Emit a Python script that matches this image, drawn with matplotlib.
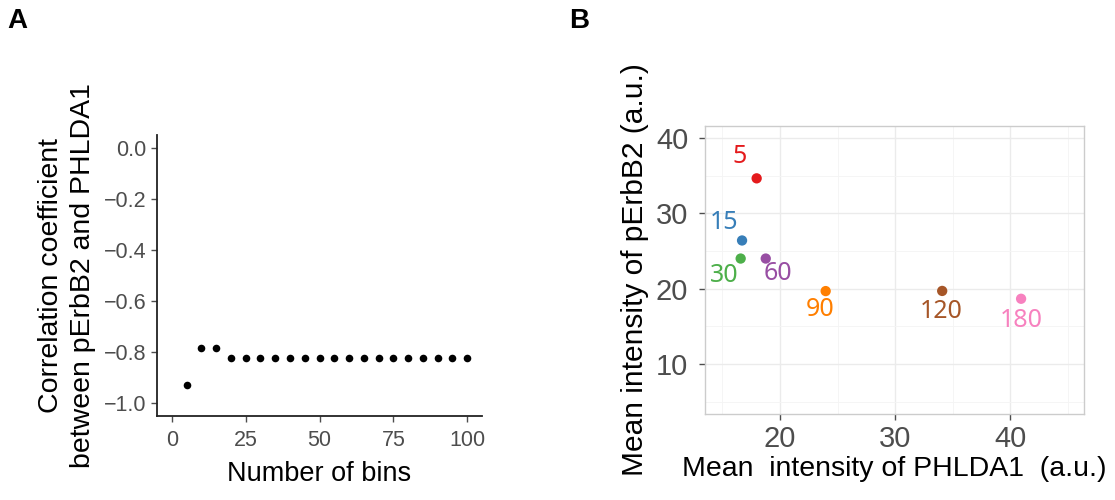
import matplotlib.pyplot as plt
from matplotlib.ticker import MultipleLocator

plt.rcParams['font.family'] = ['Liberation Sans', 'DejaVu Sans']

# panel A: correlation vs number of bins
n_bins = [5, 10, 15, 20, 25, 30, 35, 40, 45, 50, 55, 60, 65, 70, 75, 80, 85, 90, 95, 100]
corr = [-0.93, -0.785, -0.785] + [-0.824] * 17

# panel B: mean intensities per time point
times = ['5', '15', '30', '60', '90', '120', '180']
phlda1 = [17.97, 16.7, 16.58, 18.76, 23.97, 34.1, 40.96]
perbb2 = [34.65, 26.4, 24.0, 24.0, 19.68, 19.7, 18.66]
label_x = [16.5, 15.17, 15.17, 19.86, 23.5, 34.0, 40.96]
label_y = [37.5, 28.8, 21.7, 22.0, 17.2, 17.0, 15.8]
colors = ['#E41A1C', '#377EB8', '#4DAF4A', '#984EA3', '#FF7F00', '#A65628', '#F781BF']

fig = plt.figure(figsize=(11.15, 5.0), dpi=100)
tick_col = '#4D4D4D'

# ---- A ----
ax1 = fig.add_axes([0.1408, 0.168, 0.2915, 0.562])
ax1.scatter(n_bins, corr, s=30, color='black', zorder=3, linewidths=0)
ax1.set_xlim(-5, 105)
ax1.set_ylim(-1.05, 0.05)
ax1.set_xticks([0, 25, 50, 75, 100])
ax1.set_yticks([0.0, -0.2, -0.4, -0.6, -0.8, -1.0])
ax1.set_yticklabels(['0.0', '\u22120.2', '\u22120.4', '\u22120.6', '\u22120.8', '\u22121.0'])
for s in ['top', 'right']:
    ax1.spines[s].set_visible(False)
for s in ['left', 'bottom']:
    ax1.spines[s].set_linewidth(1.3)
    ax1.spines[s].set_color('#222222')
ax1.tick_params(labelsize=15.5, colors=tick_col, length=4, width=1)
ax1.tick_params(axis='x', pad=6)
ax1.set_xlabel('Number of bins', fontsize=19.5, labelpad=7)
ax1.set_ylabel('Correlation coefficient\nbetween pErbB2 and PHLDA1', fontsize=20.5,
               labelpad=6, linespacing=1.3)
fig.text(0.007, 0.958, 'A', fontsize=20, fontweight='bold', va='center')

# ---- B ----
ax2 = fig.add_axes([0.6323, 0.172, 0.3399, 0.576])
ax2.set_xlim(13.48, 46.43)
ax2.set_ylim(3.36, 41.6)
ax2.xaxis.set_major_locator(MultipleLocator(10))
ax2.yaxis.set_major_locator(MultipleLocator(10))
ax2.xaxis.set_minor_locator(MultipleLocator(5))
ax2.yaxis.set_minor_locator(MultipleLocator(5))
ax2.set_xticks([20, 30, 40])
ax2.grid(True, which='major', color='#EBEBEB', linewidth=1.0)
ax2.grid(True, which='minor', color='#F4F4F4', linewidth=0.6)
ax2.set_axisbelow(True)
ax2.scatter(phlda1, perbb2, s=55, c=colors, zorder=3, linewidths=0)
for t, lx, ly, c in zip(times, label_x, label_y, colors):
    ax2.text(lx, ly, t, color=c, fontsize=18, ha='center', va='center',
             fontweight='medium', family=['Noto Sans', 'DejaVu Sans'])
for s in ax2.spines.values():
    s.set_color('#CCCCCC')
    s.set_linewidth(1.0)
ax2.tick_params(which='both', labelsize=21, colors=tick_col, length=4, width=1)
ax2.tick_params(which='minor', length=0)
ax2.tick_params(axis='x', pad=4)
ax2.tick_params(axis='y', pad=8)
ax2.set_xlabel('Mean  intensity of PHLDA1  (a.u.)', fontsize=20.5, labelpad=2)
ax2.set_ylabel('Mean intensity of pErbB2 (a.u.)', fontsize=21.5, labelpad=5)
fig.text(0.510, 0.958, 'B', fontsize=20, fontweight='bold', va='center')

fig.savefig('out.png', dpi=100)
